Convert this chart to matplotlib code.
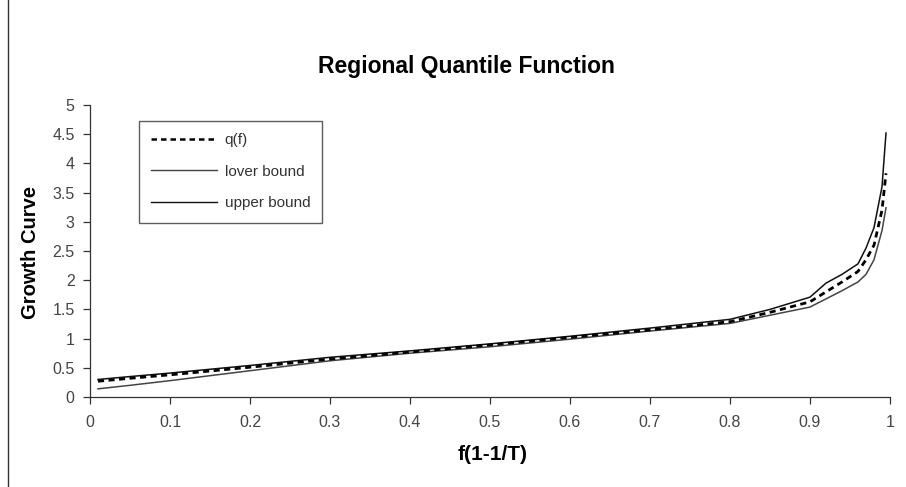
import matplotlib
matplotlib.use("Agg")
import matplotlib.pyplot as plt
from matplotlib.lines import Line2D

f_vals = [0.01, 0.05, 0.1, 0.2, 0.3, 0.4, 0.5, 0.6, 0.7, 0.8, 0.85, 0.9, 0.92, 0.94, 0.96, 0.97, 0.98, 0.99, 0.995]
q_vals = [0.27, 0.32, 0.38, 0.51, 0.65, 0.77, 0.89, 1.02, 1.15, 1.29, 1.45, 1.63, 1.80, 1.97, 2.15, 2.35, 2.60, 3.20, 3.83]
upper_vals = [0.30, 0.35, 0.41, 0.54, 0.68, 0.79, 0.91, 1.04, 1.18, 1.33, 1.50, 1.71, 1.95, 2.10, 2.28, 2.55, 2.90, 3.60, 4.52]
lower_vals = [0.14, 0.20, 0.28, 0.45, 0.62, 0.75, 0.86, 0.99, 1.13, 1.26, 1.40, 1.54, 1.68, 1.82, 1.97, 2.10, 2.35, 2.85, 3.24]

x_ticks = [0, 0.1, 0.2, 0.3, 0.4, 0.5, 0.6, 0.7, 0.8, 0.9, 1]
x_labels = ["0", "0.1", "0.2", "0.3", "0.4", "0.5", "0.6", "0.7", "0.8", "0.9", "1"]
y_ticks = [0, 0.5, 1, 1.5, 2, 2.5, 3, 3.5, 4, 4.5, 5]
y_labels = ["0", "0.5", "1", "1.5", "2", "2.5", "3", "3.5", "4", "4.5", "5"]

plt.rcParams['font.family'] = ['Liberation Sans', 'DejaVu Sans']

fig = plt.figure(figsize=(9.06, 4.87), dpi=100)
ax = fig.add_axes([90/906, 1-397/487, 800/906, 292/487])

ax.plot(f_vals, lower_vals, color='#444444', lw=1.1, label='lover bound')
ax.plot(f_vals, upper_vals, color='#111111', lw=1.1, label='upper bound')
ax.plot(f_vals, q_vals, color='black', lw=2.0, ls=(0, (2.2, 1.6)), label='q(f)')

ax.set_xlim(0, 1)
ax.set_ylim(0, 5)
ax.set_xticks(x_ticks)
ax.set_xticklabels(x_labels)
ax.set_yticks(y_ticks)
ax.set_yticklabels(y_labels)
ax.tick_params(direction='out', length=5, width=0.9, colors='#333333', labelsize=11.5, labelcolor='#444444')
ax.tick_params(axis='x', pad=8)
ax.tick_params(axis='y', pad=6)
for s in ['top', 'right']:
    ax.spines[s].set_visible(False)
for s in ['left', 'bottom']:
    ax.spines[s].set_color('#333333')
    ax.spines[s].set_linewidth(0.9)

fig.text(466/906, 1-66/487, 'Regional Quantile Function', ha='center', va='center',
         fontsize=16.5, fontweight='bold')
fig.text(31/906, 1-252/487, 'Growth Curve', ha='center', va='center', rotation=90,
         fontsize=14.5, fontweight='bold')
fig.text(493/906, 1-455/487, 'f(1-1/T)', ha='center', va='center',
         fontsize=15, fontweight='bold')

handles = [
    Line2D([], [], color='black', lw=1.8, ls=(0, (2.2, 1.6))),
    Line2D([], [], color='#444444', lw=1.0),
    Line2D([], [], color='#111111', lw=1.0),
]
leg = ax.legend(handles, ['q(f)', 'lover bound', 'upper bound'],
                loc='upper left', bbox_to_anchor=((139-90)/800, (397-121)/292),
                fontsize=11, frameon=True, fancybox=False, handlelength=4.3,
                labelspacing=1.15, borderpad=0.8, handletextpad=0.5, borderaxespad=0)
leg.get_frame().set_edgecolor('#333333')
leg.get_frame().set_linewidth(1.0)
for t in leg.get_texts():
    t.set_color('#333333')

fig.add_artist(Line2D([8/906, 8/906], [0, 1], transform=fig.transFigure, color='#333333', lw=1.0))

fig.savefig('out.png', dpi=100)
